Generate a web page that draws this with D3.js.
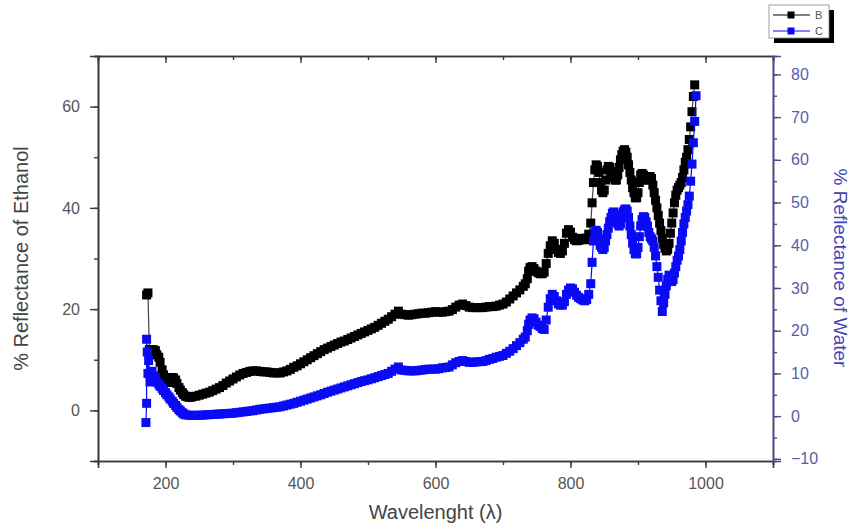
<!DOCTYPE html>
<html>
<head>
<meta charset="utf-8">
<script src="https://cdn.jsdelivr.net/npm/d3@7/dist/d3.min.js"></script>
<style>
  html, body { margin: 0; padding: 0; background: #fff; }
  svg { display: block; font-family: Arial, "Liberation Sans", sans-serif; }
</style>
</head>
<body>
<svg id="chart" width="853" height="524"></svg>
<script>
// ---- Data ----
const wavelengthB = [172, 174, 176, 178, 180, 182, 185, 187, 190, 192, 195, 197, 200, 202, 205, 207, 210, 212, 215, 217, 220, 222, 225, 227, 230, 232, 235, 237,
  240, 245, 250, 255, 260, 265, 270, 275, 280, 285, 290, 295, 300, 305, 310, 315, 320, 325, 330, 335, 340, 345, 350, 355, 360, 365, 370, 375, 380, 385, 390, 395,
  400, 405, 410, 415, 420, 425, 430, 435, 440, 445, 450, 455, 460, 465, 470, 475, 480, 485, 490, 495, 500, 505, 510, 515, 520, 525, 530, 535, 540, 545,
  550, 555, 560, 565, 570, 575, 580, 585, 590, 595, 600, 605, 610, 615, 620, 625, 630, 635, 640, 645, 650, 655, 660, 665, 670, 675, 680, 685, 690, 695,
  700, 705, 710, 715, 720, 725, 730, 733, 736, 738, 740, 743, 746, 749, 752, 755, 758, 761, 764, 767, 770, 773, 776, 779, 782, 785, 788, 791, 794, 797,
  800, 803, 806, 809, 812, 815, 818, 821, 824, 827, 830, 832, 834, 836, 838, 840, 842, 844, 846, 848, 850, 852, 854, 856, 858, 860, 862, 864, 866, 868,
  870, 872, 874, 876, 878, 880, 882, 884, 886, 888, 890, 892, 894, 896, 898, 900, 902, 904, 906, 908, 910, 912, 914, 916, 918, 920, 922, 924, 926, 928,
  930, 932, 934, 936, 938, 940, 942, 944, 946, 948, 950, 952, 954, 956, 958, 960, 962, 964, 966, 968, 970, 972, 974, 976, 978, 980, 982, 984];
const reflectanceEthanol = [22.8, 23.2, 12.0, 11.0, 11.5, 12.0, 11.8, 11.0, 10.5, 9.5, 8.0, 7.0, 6.0, 5.6, 5.5, 6.0, 6.5, 6.4, 6.0, 5.3, 4.5, 4.0, 3.5, 3.1, 2.8, 2.7, 2.6, 2.6,
  2.7, 2.8, 3.0, 3.2, 3.4, 3.6, 3.9, 4.2, 4.5, 4.9, 5.4, 5.8, 6.2, 6.6, 7.0, 7.3, 7.5, 7.7, 7.8, 7.8, 7.7, 7.6, 7.6, 7.5, 7.4, 7.4, 7.4, 7.6, 7.8, 8.1, 8.5, 8.8,
  9.2, 9.6, 10.0, 10.4, 10.8, 11.2, 11.6, 12.0, 12.3, 12.6, 12.9, 13.2, 13.5, 13.7, 14.0, 14.3, 14.6, 14.9, 15.2, 15.5, 15.8, 16.1, 16.4, 16.8, 17.2, 17.6, 18.0, 18.5, 19.0, 19.6,
  19.0, 18.9, 18.8, 18.9, 19.0, 19.1, 19.2, 19.2, 19.3, 19.4, 19.5, 19.4, 19.4, 19.5, 19.6, 19.9, 20.4, 20.8, 21.0, 20.7, 20.4, 20.3, 20.3, 20.3, 20.3, 20.4, 20.5, 20.5, 20.6, 20.8,
  21.0, 21.4, 22.0, 22.6, 23.2, 23.8, 24.5, 25.0, 26.0, 27.5, 28.2, 28.4, 28.0, 27.5, 27.2, 27.0, 27.0, 27.3, 29.0, 31.0, 32.5, 33.5, 33.0, 31.8, 31.2, 31.0, 31.5, 33.0, 35.0, 35.7,
  35.2, 34.2, 33.7, 33.5, 33.6, 34.0, 33.8, 33.7, 34.0, 34.8, 37.0, 41.0, 45.0, 47.5, 48.5, 48.2, 47.0, 45.0, 43.5, 43.0, 43.5, 45.5, 47.5, 48.2, 48.0, 47.2, 46.5, 46.0, 45.5, 45.5,
  46.5, 48.0, 49.5, 50.5, 51.2, 51.5, 51.0, 50.0, 48.5, 47.0, 45.5, 44.0, 43.0, 42.0, 42.0, 43.0, 45.0, 46.5, 46.8, 46.5, 46.0, 45.5, 45.5, 46.0, 46.2, 45.8, 44.5, 43.0, 41.5, 40.0,
  38.5, 37.0, 35.5, 34.0, 32.8, 32.0, 31.5, 31.8, 33.0, 35.0, 37.0, 39.0, 41.0, 42.5, 43.5, 44.0, 44.5, 45.0, 46.0, 47.5, 49.0, 50.0, 51.5, 53.5, 56.0, 59.0, 62.0, 64.3];

const wavelengthC = [171, 172, 172, 173, 174, 175, 177, 180, 182, 185, 187, 190, 192, 195, 197, 200, 202, 205, 207, 210, 212, 215, 217, 220, 222, 225, 227, 230, 235,
  240, 245, 250, 255, 260, 265, 270, 275, 280, 285, 290, 295, 300, 305, 310, 315, 320, 325, 330, 335, 340, 345, 350, 355, 360, 365, 370, 375, 380, 385, 390, 395,
  400, 405, 410, 415, 420, 425, 430, 435, 440, 445, 450, 455, 460, 465, 470, 475, 480, 485, 490, 495, 500, 505, 510, 515, 520, 525, 530, 535, 540, 545,
  550, 555, 560, 565, 570, 575, 580, 585, 590, 595, 600, 605, 610, 615, 620, 625, 630, 635, 640, 645, 650, 655, 660, 665, 670, 675, 680, 685, 690, 695,
  700, 705, 710, 715, 720, 725, 730, 733, 736, 738, 740, 743, 746, 749, 752, 755, 758, 761, 764, 767, 770, 773, 776, 779, 782, 785, 788, 791, 794, 797,
  800, 803, 806, 809, 812, 815, 818, 821, 824, 827, 830, 832, 834, 836, 838, 840, 842, 844, 846, 848, 850, 852, 854, 856, 858, 860, 862, 864, 866, 868,
  870, 872, 874, 876, 878, 880, 882, 884, 886, 888, 890, 892, 894, 896, 898, 900, 902, 904, 906, 908, 910, 912, 914, 916, 918, 920, 922, 924, 926, 928,
  930, 932, 934, 936, 938, 940, 942, 944, 946, 948, 950, 952, 954, 956, 958, 960, 962, 964, 966, 968, 970, 972, 974, 976, 978, 980, 982, 984, 986];
const reflectanceWater = [-1.5, 3.0, 18.0, 15.0, 10.0, 13.0, 8.0, 10.5, 9.5, 9.0, 8.0, 7.5, 7.0, 6.5, 6.0, 5.5, 5.0, 4.5, 4.0, 3.5, 3.0, 2.5, 2.0, 1.5, 1.2, 0.8, 0.5, 0.3, 0.2,
  0.2, 0.2, 0.2, 0.25, 0.3, 0.35, 0.4, 0.45, 0.5, 0.55, 0.6, 0.65, 0.7, 0.8, 0.9, 1.0, 1.1, 1.2, 1.3, 1.45, 1.6, 1.7, 1.8, 1.9, 2.0, 2.1, 2.2, 2.4, 2.6, 2.8, 3.0, 3.25,
  3.5, 3.75, 4.0, 4.25, 4.5, 4.75, 5.0, 5.3, 5.6, 5.85, 6.1, 6.35, 6.6, 6.85, 7.1, 7.35, 7.6, 7.85, 8.1, 8.3, 8.5, 8.75, 9.0, 9.25, 9.5, 9.75, 10.0, 10.5, 11.0, 11.5,
  10.8, 10.7, 10.6, 10.6, 10.6, 10.7, 10.8, 10.9, 11.0, 11.0, 11.0, 11.1, 11.3, 11.4, 11.5, 12.0, 12.5, 12.8, 13.0, 12.8, 12.6, 12.6, 12.7, 12.75, 12.8, 13.0, 13.3, 13.5, 13.8, 14.0,
  14.2, 14.7, 15.2, 15.8, 16.5, 17.2, 18.0, 18.5, 20.0, 21.5, 22.5, 23.0, 22.8, 22.0, 21.3, 21.0, 20.5, 20.3, 22.5, 25.5, 27.5, 28.5, 28.0, 27.0, 26.3, 26.0, 26.0, 26.8, 28.5, 29.5,
  30.0, 29.8, 29.0, 28.3, 27.8, 27.5, 27.2, 27.0, 27.3, 28.5, 31.0, 36.0, 41.0, 43.0, 43.5, 43.0, 41.5, 40.0, 39.5, 39.0, 39.5, 41.0, 42.5, 44.0, 45.5, 46.5, 47.5, 47.8, 47.2, 46.0,
  45.0, 44.5, 45.0, 46.5, 47.8, 48.3, 48.5, 48.0, 46.5, 44.5, 42.5, 40.5, 39.0, 38.0, 38.0, 39.5, 42.0, 44.5, 46.0, 46.7, 46.5, 45.5, 44.5, 43.0, 42.0, 41.5, 41.0, 39.5, 37.5, 35.0,
  32.5, 29.5, 27.0, 24.5, 26.5, 28.5, 30.5, 32.0, 33.0, 32.5, 31.5, 32.0, 33.5, 35.0, 36.5, 37.5, 39.0, 41.0, 43.0, 45.0, 46.5, 48.0, 49.5, 51.5, 55.0, 59.0, 64.0, 69.0, 75.0];

const xTicks = [200, 400, 600, 800, 1000];
const leftTicks = [0, 20, 40, 60];
const rightTicks = [-10, 0, 10, 20, 30, 40, 50, 60, 70, 80];
const legendLabels = ["B", "C"];

// ---- Layout ----
const L = 98, R = 773, T = 56, B = 461;
const svg = d3.select("#chart");
const colB = "#000000", colC = "#0a0af5";
const axisGrey = "#3a3a3a", labelGrey = "#555555";
const axisBlue = "#4a4a8c", labelBlue = "#5b5ba8";

const x = d3.scaleLinear().domain([100, 1100]).range([L, R]);
const yL = d3.scaleLinear().domain([-10, 70]).range([B, T]);
const yR = d3.scaleLinear().domain([-10.5, 84.3]).range([B, T]);

function styleAxis(g, color, labelColor) {
  g.selectAll(".domain").attr("stroke", color).attr("stroke-width", 1.6);
  g.selectAll(".tick line").attr("stroke", color).attr("stroke-width", 1.4);
  g.selectAll(".tick text").attr("fill", labelColor).attr("font-size", 16);
}

// bottom axis
const gxMinor = svg.append("g").attr("transform", `translate(0,${B})`)
  .call(d3.axisBottom(x).tickValues(d3.range(100, 1101, 100)).tickSize(4).tickFormat(""));
styleAxis(gxMinor, axisGrey, labelGrey);
const gx = svg.append("g").attr("transform", `translate(0,${B})`)
  .call(d3.axisBottom(x).tickValues(xTicks).tickSize(7).tickPadding(10).tickFormat(d3.format("d")));
styleAxis(gx, axisGrey, labelGrey);

// top axis (inward ticks, no labels)
const gtMinor = svg.append("g").attr("transform", `translate(0,${T})`)
  .call(d3.axisBottom(x).tickValues(d3.range(100, 1101, 100)).tickSize(4).tickFormat(""));
styleAxis(gtMinor, axisGrey, labelGrey);
const gt = svg.append("g").attr("transform", `translate(0,${T})`)
  .call(d3.axisBottom(x).tickValues(xTicks).tickSize(7).tickFormat(""));
styleAxis(gt, axisGrey, labelGrey);

// left axis
const gyMinor = svg.append("g").attr("transform", `translate(${L},0)`)
  .call(d3.axisLeft(yL).tickValues(d3.range(-10, 71, 10)).tickSize(4).tickFormat(""));
styleAxis(gyMinor, axisGrey, labelGrey);
const gy = svg.append("g").attr("transform", `translate(${L},0)`)
  .call(d3.axisLeft(yL).tickValues(leftTicks).tickSize(8).tickPadding(10));
styleAxis(gy, axisGrey, labelGrey);

// right axis
const grMinor = svg.append("g").attr("transform", `translate(${R},0)`)
  .call(d3.axisRight(yR).tickValues(d3.range(-10, 81, 5)).tickSize(4).tickFormat(""));
styleAxis(grMinor, axisBlue, labelBlue);
const gr = svg.append("g").attr("transform", `translate(${R},0)`)
  .call(d3.axisRight(yR).tickValues(rightTicks).tickSize(8).tickPadding(10));
styleAxis(gr, axisBlue, labelBlue);

// ---- Series ----
const dataB = wavelengthB.map((w, i) => ({ w, v: reflectanceEthanol[i] }));
const dataC = wavelengthC.map((w, i) => ({ w, v: reflectanceWater[i] }));
const ms = 9;

const lineB = d3.line().x(d => x(d.w)).y(d => yL(d.v));
const lineC = d3.line().x(d => x(d.w)).y(d => yR(d.v));

svg.append("path").datum(dataB).attr("d", lineB)
  .attr("fill", "none").attr("stroke", "#444").attr("stroke-width", 1.2);
svg.append("g").selectAll("rect").data(dataB).join("rect")
  .attr("x", d => x(d.w) - ms / 2).attr("y", d => yL(d.v) - ms / 2)
  .attr("width", ms).attr("height", ms).attr("fill", colB);

svg.append("path").datum(dataC).attr("d", lineC)
  .attr("fill", "none").attr("stroke", colC).attr("stroke-width", 1.2);
svg.append("g").selectAll("rect").data(dataC).join("rect")
  .attr("x", d => x(d.w) - ms / 2).attr("y", d => yR(d.v) - ms / 2)
  .attr("width", ms).attr("height", ms).attr("fill", colC);

// ---- Axis titles ----
svg.append("text").attr("x", (L + R) / 2).attr("y", 519)
  .attr("text-anchor", "middle").attr("font-size", 20).attr("fill", "#444")
  .text("Wavelenght (λ)");
svg.append("text").attr("transform", `translate(28,${(T + B) / 2}) rotate(-90)`)
  .attr("text-anchor", "middle").attr("font-size", 20).attr("fill", "#444")
  .text("% Reflectance of Ethanol");
svg.append("text").attr("transform", `translate(834,268) rotate(90)`)
  .attr("text-anchor", "middle").attr("font-size", 19).attr("fill", "#4545b5")
  .text("% Reflectance of Water");

// ---- Legend ----
const lg = svg.append("g");
lg.append("rect").attr("x", 774).attr("y", 10).attr("width", 60).attr("height", 33).attr("fill", "#000");
lg.append("rect").attr("x", 769).attr("y", 5).attr("width", 60).attr("height", 33)
  .attr("fill", "#fff").attr("stroke", "#888").attr("stroke-width", 0.8);
const legendColors = [colB, colC];
legendLabels.forEach((lab, i) => {
  const yy = 15 + i * 16;
  lg.append("line").attr("x1", 773).attr("x2", 810).attr("y1", yy).attr("y2", yy)
    .attr("stroke", legendColors[i]).attr("stroke-width", 1);
  lg.append("rect").attr("x", 791 - 3.5).attr("y", yy - 3.5).attr("width", 7).attr("height", 7)
    .attr("fill", legendColors[i]);
  lg.append("text").attr("x", 815).attr("y", yy + 4).attr("font-size", 11).attr("fill", "#555").text(lab);
});
</script>
</body>
</html>
